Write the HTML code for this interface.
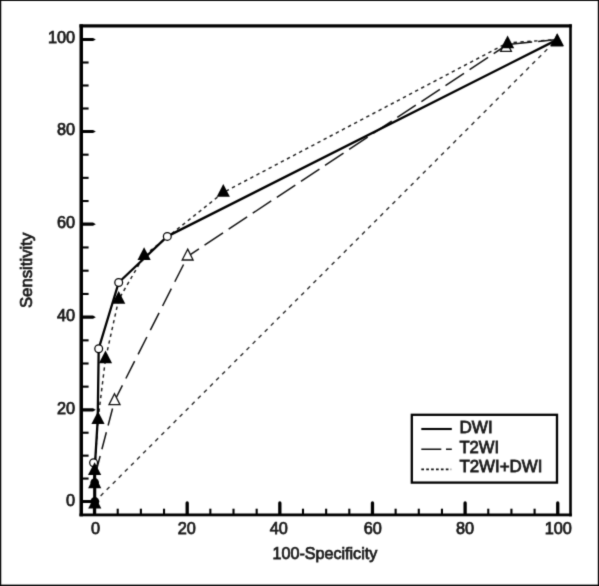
<!DOCTYPE html>
<html><head><meta charset="utf-8"><title>ROC curves</title>
<style>
html,body{margin:0;padding:0;background:#fff;}
#wrap{position:relative;width:599px;height:586px;overflow:hidden;background:#fff;}
svg{display:block;position:absolute;left:-4px;top:-4px;}
text{font-family:"Liberation Sans",Arial,Helvetica,sans-serif;fill:#1a1a1a;stroke:#1a1a1a;stroke-width:0.75px;}
</style></head><body>
<div id="wrap"><svg width="607" height="594" viewBox="-4 -4 607 594">
<defs><filter id="soft" x="-4" y="-4" width="607" height="594" filterUnits="userSpaceOnUse" color-interpolation-filters="sRGB"><feConvolveMatrix order="3" kernelMatrix="0.0367 0.1915 0.0367 0.1915 1.0000 0.1915 0.0367 0.1915 0.0367" edgeMode="duplicate" preserveAlpha="true"/></filter></defs>
<rect x="0" y="0" width="599" height="586" fill="#fff"/>
<g filter="url(#soft)">
<rect x="-5" y="-5" width="609" height="596" fill="#fff"/>
<rect x="-5" y="-5" width="6.25" height="596" fill="#0a0a0a"/>
<rect x="-5" y="-5" width="609" height="6.0" fill="#0a0a0a"/>
<rect x="597.8" y="-5" width="6.2" height="596" fill="#0a0a0a"/>
<rect x="-5" y="584.6" width="609" height="6.4" fill="#0a0a0a"/>
<rect x="79.5" y="24.3" width="3.5" height="492" fill="#000"/>
<rect x="79.5" y="24.3" width="492.3" height="3.2" fill="#000"/>
<rect x="569.2" y="24.3" width="2.6" height="492" fill="#000"/>
<rect x="79.5" y="513.5" width="492.3" height="2.8" fill="#000"/>
<polygon points="81.3,499.90 93.0,499.90 95.8,501.50 93.0,503.10 81.3,503.10" fill="#000"/>
<line x1="94.55" y1="514" x2="94.55" y2="502.9" stroke="#000" stroke-width="3.3" stroke-linecap="round"/>
<line x1="81.3" y1="478.57" x2="88.6" y2="478.57" stroke="#000" stroke-width="2.1"/>
<line x1="117.71" y1="514.8" x2="117.71" y2="508.7" stroke="#000" stroke-width="2.1"/>
<line x1="81.3" y1="455.65" x2="88.6" y2="455.65" stroke="#000" stroke-width="2.1"/>
<line x1="140.87" y1="514.8" x2="140.87" y2="508.7" stroke="#000" stroke-width="2.1"/>
<line x1="81.3" y1="432.73" x2="88.6" y2="432.73" stroke="#000" stroke-width="2.1"/>
<line x1="164.03" y1="514.8" x2="164.03" y2="508.7" stroke="#000" stroke-width="2.1"/>
<polygon points="81.3,408.20 93.0,408.20 95.8,409.80 93.0,411.40 81.3,411.40" fill="#000"/>
<line x1="187.19" y1="514" x2="187.19" y2="502.9" stroke="#000" stroke-width="3.3" stroke-linecap="round"/>
<line x1="81.3" y1="386.65" x2="88.6" y2="386.65" stroke="#000" stroke-width="2.1"/>
<line x1="210.35" y1="514.8" x2="210.35" y2="508.7" stroke="#000" stroke-width="2.1"/>
<line x1="81.3" y1="363.50" x2="88.6" y2="363.50" stroke="#000" stroke-width="2.1"/>
<line x1="233.51" y1="514.8" x2="233.51" y2="508.7" stroke="#000" stroke-width="2.1"/>
<line x1="81.3" y1="340.35" x2="88.6" y2="340.35" stroke="#000" stroke-width="2.1"/>
<line x1="256.67" y1="514.8" x2="256.67" y2="508.7" stroke="#000" stroke-width="2.1"/>
<polygon points="81.3,315.60 93.0,315.60 95.8,317.20 93.0,318.80 81.3,318.80" fill="#000"/>
<line x1="279.83" y1="514" x2="279.83" y2="502.9" stroke="#000" stroke-width="3.3" stroke-linecap="round"/>
<line x1="81.3" y1="293.95" x2="88.6" y2="293.95" stroke="#000" stroke-width="2.1"/>
<line x1="302.99" y1="514.8" x2="302.99" y2="508.7" stroke="#000" stroke-width="2.1"/>
<line x1="81.3" y1="270.70" x2="88.6" y2="270.70" stroke="#000" stroke-width="2.1"/>
<line x1="326.15" y1="514.8" x2="326.15" y2="508.7" stroke="#000" stroke-width="2.1"/>
<line x1="81.3" y1="247.45" x2="88.6" y2="247.45" stroke="#000" stroke-width="2.1"/>
<line x1="349.31" y1="514.8" x2="349.31" y2="508.7" stroke="#000" stroke-width="2.1"/>
<polygon points="81.3,222.60 93.0,222.60 95.8,224.20 93.0,225.80 81.3,225.80" fill="#000"/>
<line x1="372.47" y1="514" x2="372.47" y2="502.9" stroke="#000" stroke-width="3.3" stroke-linecap="round"/>
<line x1="81.3" y1="201.02" x2="88.6" y2="201.02" stroke="#000" stroke-width="2.1"/>
<line x1="395.63" y1="514.8" x2="395.63" y2="508.7" stroke="#000" stroke-width="2.1"/>
<line x1="81.3" y1="177.85" x2="88.6" y2="177.85" stroke="#000" stroke-width="2.1"/>
<line x1="418.79" y1="514.8" x2="418.79" y2="508.7" stroke="#000" stroke-width="2.1"/>
<line x1="81.3" y1="154.68" x2="88.6" y2="154.68" stroke="#000" stroke-width="2.1"/>
<line x1="441.95" y1="514.8" x2="441.95" y2="508.7" stroke="#000" stroke-width="2.1"/>
<polygon points="81.3,129.90 93.0,129.90 95.8,131.50 93.0,133.10 81.3,133.10" fill="#000"/>
<line x1="465.11" y1="514" x2="465.11" y2="502.9" stroke="#000" stroke-width="3.3" stroke-linecap="round"/>
<line x1="81.3" y1="108.50" x2="88.6" y2="108.50" stroke="#000" stroke-width="2.1"/>
<line x1="488.27" y1="514.8" x2="488.27" y2="508.7" stroke="#000" stroke-width="2.1"/>
<line x1="81.3" y1="85.50" x2="88.6" y2="85.50" stroke="#000" stroke-width="2.1"/>
<line x1="511.43" y1="514.8" x2="511.43" y2="508.7" stroke="#000" stroke-width="2.1"/>
<line x1="81.3" y1="62.50" x2="88.6" y2="62.50" stroke="#000" stroke-width="2.1"/>
<line x1="534.59" y1="514.8" x2="534.59" y2="508.7" stroke="#000" stroke-width="2.1"/>
<polygon points="81.3,37.90 93.0,37.90 95.8,39.50 93.0,41.10 81.3,41.10" fill="#000"/>
<line x1="557.75" y1="514" x2="557.75" y2="502.9" stroke="#000" stroke-width="3.3" stroke-linecap="round"/>
<text x="75.1" y="505.60" font-size="16.3" text-anchor="end">0</text>
<text x="95.55" y="534.3" font-size="16.3" text-anchor="middle">0</text>
<text x="75.1" y="413.50" font-size="16.3" text-anchor="end">20</text>
<text x="186.69" y="534.3" font-size="16.3" text-anchor="middle">20</text>
<text x="75.1" y="320.90" font-size="16.3" text-anchor="end">40</text>
<text x="278.83" y="534.3" font-size="16.3" text-anchor="middle">40</text>
<text x="75.1" y="227.90" font-size="16.3" text-anchor="end">60</text>
<text x="372.77" y="534.3" font-size="16.3" text-anchor="middle">60</text>
<text x="75.1" y="135.20" font-size="16.3" text-anchor="end">80</text>
<text x="465.11" y="534.3" font-size="16.3" text-anchor="middle">80</text>
<text x="75.1" y="43.20" font-size="16.3" text-anchor="end">100</text>
<text x="558.25" y="534.3" font-size="16.3" text-anchor="middle">100</text>
<text x="324.9" y="558.6" font-size="16.1" text-anchor="middle">100-Specificity</text>
<text transform="translate(31.9,270.4) rotate(-90)" font-size="16.75" text-anchor="middle">Sensitivity</text>
<polyline points="94.5,502.0 557.8,38.6" fill="none" stroke="#2a2a2a" stroke-width="1.4" stroke-dasharray="4.0 4.6"/>
<polyline points="114.5,401.0 96.5,470.0" fill="none" stroke="#111" stroke-width="1.5" stroke-dasharray="17.6 7" stroke-dashoffset="16.9"/>
<polyline points="114.5,401.0 187.7,256.3" fill="none" stroke="#111" stroke-width="1.5" stroke-dasharray="19.4 7.7" stroke-dashoffset="1.9"/>
<polyline points="187.7,256.3 506.0,45.5" fill="none" stroke="#111" stroke-width="1.5" stroke-dasharray="22.2 6.7" stroke-dashoffset="8.7"/>
<polyline points="507.0,44.6 557.3,39.6" fill="none" stroke="#111" stroke-width="1.5" stroke-dasharray="22 6" stroke-dashoffset="24.7"/>
<polyline points="94.7,501.4 94.7,484.0 94.6,470.7 98.0,419.8 105.5,358.9 118.7,299.5 144.1,255.7 223.3,192.5 507.6,42.8 557.3,39.6" fill="none" stroke="#1c1c1c" stroke-width="1.45" stroke-dasharray="3.4 3.5"/>
<polyline points="94.7,501.4 94.7,484.0 94.6,470.7 97.7,419.8 98.7,348.7 118.7,282.5 167.3,236.4 557.3,39.6" fill="none" stroke="#000" stroke-width="2.3" stroke-linejoin="round"/>
<line x1="94.75" y1="501.4" x2="94.7" y2="466" stroke="#000" stroke-width="3.0"/>
<circle cx="94.8" cy="501.6" r="4.5" fill="#000"/>
<circle cx="94.7" cy="482.6" r="4.3" fill="#000"/>
<polygon points="114.5,393.8 120.0,404.7 109.0,404.7" fill="#fff" stroke="#111" stroke-width="1.3" stroke-linejoin="miter"/>
<polygon points="187.7,249.1 193.1,260.0 182.2,260.0" fill="#fff" stroke="#111" stroke-width="1.3" stroke-linejoin="miter"/>
<polygon points="506.0,40.5 511.4,51.4 500.6,51.4" fill="#fff" stroke="#111" stroke-width="1.3" stroke-linejoin="miter"/>
<polygon points="557.0,34.9 562.5,45.8 551.5,45.8" fill="#fff" stroke="#111" stroke-width="1.3" stroke-linejoin="miter"/>
<circle cx="93.6" cy="462.8" r="3.9" fill="#fff" stroke="#000" stroke-width="1.25"/>
<circle cx="98.7" cy="348.7" r="3.9" fill="#fff" stroke="#000" stroke-width="1.25"/>
<circle cx="118.7" cy="282.5" r="3.9" fill="#fff" stroke="#000" stroke-width="1.25"/>
<circle cx="167.3" cy="236.4" r="3.9" fill="#fff" stroke="#000" stroke-width="1.25"/>
<polygon points="94.8,495.7 101.3,508.5 88.2,508.5" fill="#000"/>
<polygon points="94.7,475.5 101.3,488.3 88.1,488.3" fill="#000"/>
<polygon points="94.6,462.2 101.2,475.0 88.0,475.0" fill="#000"/>
<polygon points="98.0,411.3 104.6,424.1 91.4,424.1" fill="#000"/>
<polygon points="105.5,350.4 112.1,363.2 98.9,363.2" fill="#000"/>
<polygon points="118.7,291.0 125.3,303.8 112.1,303.8" fill="#000"/>
<polygon points="144.1,247.2 150.7,260.0 137.5,260.0" fill="#000"/>
<polygon points="223.3,184.0 229.9,196.8 216.7,196.8" fill="#000"/>
<polygon points="507.6,35.5 514.2,48.3 501.0,48.3" fill="#000"/>
<polygon points="557.3,33.2 563.9,46.0 550.7,46.0" fill="#000"/>
<rect x="411.8" y="414.8" width="145.2" height="67.8" fill="#fff" stroke="#000" stroke-width="2.3"/>
<line x1="421.3" y1="429" x2="451.8" y2="429" stroke="#000" stroke-width="2.1"/>
<line x1="421.3" y1="449.3" x2="451.8" y2="449.3" stroke="#111" stroke-width="1.6" stroke-dasharray="20 4.7 5.8 10"/>
<line x1="421.3" y1="469.4" x2="451.2" y2="469.4" stroke="#111" stroke-width="1.75" stroke-dasharray="2.7 2.2"/>
<text transform="translate(459.4,433.1) scale(1.09,1)" font-size="15.7">DWI</text>
<text transform="translate(459.4,452.7) scale(1.058,1)" font-size="15.7">T2WI</text>
<text transform="translate(459.4,472.2) scale(1.076,1)" font-size="15.7">T2WI+DWI</text>
</g>
</svg></div>
</body></html>
